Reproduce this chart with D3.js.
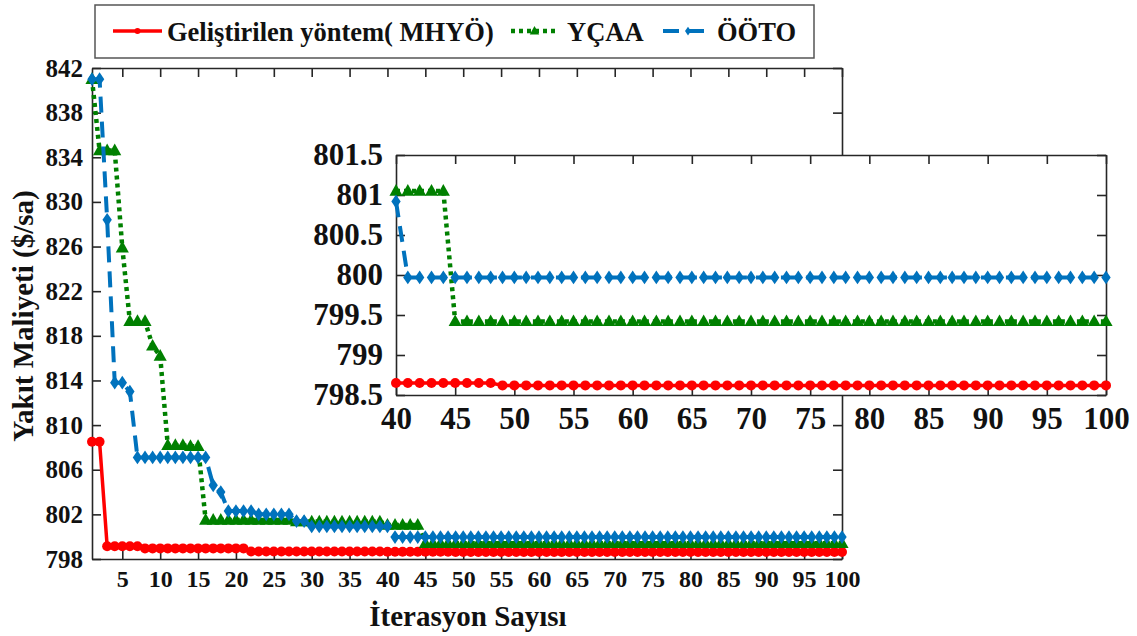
<!DOCTYPE html>
<html><head><meta charset="utf-8">
<script src="https://cdn.jsdelivr.net/npm/d3@7"></script>
<style>
html,body{margin:0;padding:0;background:#fff;}
svg{display:block;}
svg text{font-family:"Liberation Serif","Times New Roman",Times,"DejaVu Serif",serif;font-weight:bold;}
</style></head>
<body><svg id="c" width="1137" height="636"></svg>
<script>
// ---- data ----
const iterations = d3.range(1, 101);
const seriesNames = ["Geliştirilen yöntem( MHYÖ)", "YÇAA", "ÖÖTO"];
const mhyo = [
808.5,808.5,799.15,799.15,799.15,799.15,799.15,798.95,798.95,798.95,
798.95,798.95,798.95,798.95,798.95,798.95,798.95,798.95,798.95,798.95,
798.95,798.68,798.68,798.68,798.68,798.68,798.68,798.68,798.68,798.68,
798.68,798.68,798.68,798.68,798.68,798.68,798.68,798.68,798.68,798.65,
798.65,798.65,798.65,798.65,798.65,798.65,798.65,798.65,798.62,798.62,
798.62,798.62,798.62,798.62,798.62,798.62,798.62,798.62,798.62,798.62,
798.62,798.62,798.62,798.62,798.62,798.62,798.62,798.62,798.62,798.62,
798.62,798.62,798.62,798.62,798.62,798.62,798.62,798.62,798.62,798.62,
798.62,798.62,798.62,798.62,798.62,798.62,798.62,798.62,798.62,798.62,
798.62,798.62,798.62,798.62,798.62,798.62,798.62,798.62,798.62,798.62];
const ycaa = [
841,834.6,834.6,834.6,825.9,819.3,819.3,819.3,817.1,816.2,
808.2,808.2,808.2,808.1,808.1,801.5,801.5,801.5,801.5,801.5,
801.5,801.5,801.5,801.5,801.5,801.5,801.5,801.35,801.35,801.35,
801.35,801.35,801.35,801.35,801.35,801.35,801.35,801.35,801.35,801.05,
801.05,801.05,801.05,801.05,799.42,799.42,799.42,799.42,799.42,799.42,
799.42,799.42,799.42,799.42,799.42,799.42,799.42,799.42,799.42,799.42,
799.42,799.42,799.42,799.42,799.42,799.42,799.42,799.42,799.42,799.42,
799.42,799.42,799.42,799.42,799.42,799.42,799.42,799.42,799.42,799.42,
799.42,799.42,799.42,799.42,799.42,799.42,799.42,799.42,799.42,799.42,
799.42,799.42,799.42,799.42,799.42,799.42,799.42,799.42,799.42,799.42];
const ooto = [
841,841,828.4,813.8,813.8,813.0,807.1,807.1,807.1,807.1,
807.1,807.1,807.1,807.1,807.1,807.1,804.6,804.0,802.3,802.3,
802.3,802.3,802.0,802.0,802.0,802.0,802.0,801.4,801.4,800.92,
800.92,800.92,800.92,800.92,800.92,800.92,800.92,800.92,800.92,800.92,
799.97,799.97,799.97,799.97,799.97,799.97,799.97,799.97,799.97,799.97,
799.97,799.97,799.97,799.97,799.97,799.97,799.97,799.97,799.97,799.97,
799.97,799.97,799.97,799.97,799.97,799.97,799.97,799.97,799.97,799.97,
799.97,799.97,799.97,799.97,799.97,799.97,799.97,799.97,799.97,799.97,
799.97,799.97,799.97,799.97,799.97,799.97,799.97,799.97,799.97,799.97,
799.97,799.97,799.97,799.97,799.97,799.97,799.97,799.97,799.97,799.97];
const mainXTicks = [5,10,15,20,25,30,35,40,45,50,55,60,65,70,75,80,85,90,95,100];
const mainYTicks = [798,802,806,810,814,818,822,826,830,834,838,842];
const insetXTicks = [40,45,50,55,60,65,70,75,80,85,90,95,100];
const insetYTicks = [798.5,799,799.5,800,800.5,801,801.5];
const xTitle = "İterasyon Sayısı";
const yTitle = "Yakıt Maliyeti ($/sa)";

// ---- styles ----
const FONT = '"Liberation Serif","Times New Roman",Times,"DejaVu Serif",serif';
const styles = [
  {color:"#ff0000", width:3.5, dash:null, marker:"circle"},
  {color:"#008000", width:4.5, dash:"4,4", marker:"triangle"},
  {color:"#0072bd", width:4, dash:"16,9", marker:"diamond"}
];
const allSeries = [mhyo, ycaa, ooto];

const svg = d3.select("#c");
const axisColor = "#262626";

function markerPath(type, s) {
  if (type === "circle") return d3.symbol(d3.symbolCircle, s*s*Math.PI/4)();
  if (type === "triangle") {
    const h = s*0.9, w = s*1.05;
    return `M0,${-h*0.62}L${w/2},${h*0.42}L${-w/2},${h*0.42}Z`;
  }
  const w = s*0.85, h = s*1.25;
  return `M0,${-h/2}L${w/2},0L0,${h/2}L${-w/2},0Z`;
}
const markerSize = [10, 12.5, 11];

function drawPanel(g, x, y, idxFilter) {
  allSeries.forEach((vals, si) => {
    const st = styles[si];
    const pts = iterations.map((it, i) => ({x: it, y: vals[i]})).filter(idxFilter);
    const line = d3.line().x(d => x(d.x)).y(d => y(d.y));
    g.append("path").attr("d", line(pts)).attr("fill", "none")
      .attr("stroke", st.color).attr("stroke-width", st.width)
      .attr("stroke-dasharray", st.dash).attr("stroke-linejoin", "round");
    g.selectAll(null).data(pts).enter().append("path")
      .attr("d", markerPath(st.marker, markerSize[si]))
      .attr("transform", d => `translate(${x(d.x)},${y(d.y)})`)
      .attr("fill", st.color).attr("stroke", "none");
  });
}

function styleAxis(sel, fs) {
  sel.attr("font-family", FONT);
  sel.select(".domain").attr("stroke", axisColor).attr("stroke-width", 1.6);
  sel.selectAll(".tick line").attr("stroke", axisColor).attr("stroke-width", 1.6);
  sel.selectAll(".tick text").attr("font-size", fs).attr("fill", "#111")
     .attr("font-family", FONT).attr("font-weight", "bold");
}

// ---- main axes ----
const M = {l:92, r:842, t:68, b:559};
const x = d3.scaleLinear().domain([1,100]).range([M.l, M.r]);
const y = d3.scaleLinear().domain([798,842]).range([M.b, M.t]);
const tk = 9;

const gx = svg.append("g").attr("transform", `translate(0,${M.b})`)
  .call(d3.axisBottom(x).tickValues(mainXTicks).tickSizeInner(-tk).tickSizeOuter(0).tickPadding(11));
styleAxis(gx, 24);
const gy = svg.append("g").attr("transform", `translate(${M.l},0)`)
  .call(d3.axisLeft(y).tickValues(mainYTicks).tickSizeInner(-tk).tickSizeOuter(0).tickPadding(9));
styleAxis(gy, 25);
const gt = svg.append("g").attr("transform", `translate(0,${M.t})`)
  .call(d3.axisTop(x).tickValues(mainXTicks).tickSizeInner(-tk).tickSizeOuter(0).tickFormat(""));
styleAxis(gt, 24);
const gr = svg.append("g").attr("transform", `translate(${M.r},0)`)
  .call(d3.axisRight(y).tickValues(mainYTicks).tickSizeInner(-tk).tickSizeOuter(0).tickFormat(""));
styleAxis(gr, 24);

drawPanel(svg.append("g"), x, y, d => true);

// titles
svg.append("text").attr("x", 468).attr("y", 626).attr("text-anchor", "middle")
  .attr("font-family", FONT).attr("font-size", 29).attr("fill", "#111").text(xTitle);
svg.append("text").attr("transform", "translate(33,316) rotate(-90)").attr("text-anchor", "middle")
  .attr("font-family", FONT).attr("font-size", 29).attr("fill", "#111").text(yTitle);

// ---- inset ----
const I = {l:396, r:1106, t:155, b:395};
const xi = d3.scaleLinear().domain([40,100]).range([I.l, I.r]);
const yi = d3.scaleLinear().domain([798.5,801.5]).range([I.b, I.t]);
svg.append("rect").attr("x", I.l).attr("y", I.t).attr("width", I.r-I.l).attr("height", I.b-I.t).attr("fill", "#fff");

const gxi = svg.append("g").attr("transform", `translate(0,${I.b})`)
  .call(d3.axisBottom(xi).tickValues(insetXTicks).tickSizeInner(-tk).tickSizeOuter(0).tickPadding(12));
styleAxis(gxi, 31);
const gyi = svg.append("g").attr("transform", `translate(${I.l},0)`)
  .call(d3.axisLeft(yi).tickValues(insetYTicks).tickSizeInner(-tk).tickSizeOuter(0).tickPadding(13).tickFormat(d => String(d)));
styleAxis(gyi, 31);
const gti = svg.append("g").attr("transform", `translate(0,${I.t})`)
  .call(d3.axisTop(xi).tickValues(insetXTicks).tickSizeInner(-tk).tickSizeOuter(0).tickFormat(""));
styleAxis(gti, 30);
const gri = svg.append("g").attr("transform", `translate(${I.r},0)`)
  .call(d3.axisRight(yi).tickValues(insetYTicks).tickSizeInner(-tk).tickSizeOuter(0).tickFormat(""));
styleAxis(gri, 30);

drawPanel(svg.append("g"), xi, yi, d => d.x >= 40);

// ---- legend ----
const lg = svg.append("g");
lg.append("rect").attr("x", 95).attr("y", 5).attr("width", 719).attr("height", 53)
  .attr("fill", "#fff").attr("stroke", "#555").attr("stroke-width", 1.5);
const legItems = [
  {x0:113, x1:162, tx:167},
  {x0:511, x1:558, tx:567},
  {x0:663, x1:713, tx:717}
];
const legMarkerSize = [6, 9, 7];
legItems.forEach((it, i) => {
  const st = styles[i];
  lg.append("line").attr("x1", it.x0).attr("x2", it.x1).attr("y1", 31).attr("y2", 31)
    .attr("stroke", st.color).attr("stroke-width", st.width).attr("stroke-dasharray", st.dash);
  lg.append("path").attr("d", markerPath(st.marker, legMarkerSize[i]))
    .attr("transform", `translate(${(it.x0+it.x1)/2},31)`).attr("fill", st.color);
  lg.append("text").attr("x", it.tx).attr("y", 41).attr("font-family", FONT).attr("font-size", 26.5).attr("fill", "#111")
    .text(seriesNames[i]);
});
</script></body></html>
